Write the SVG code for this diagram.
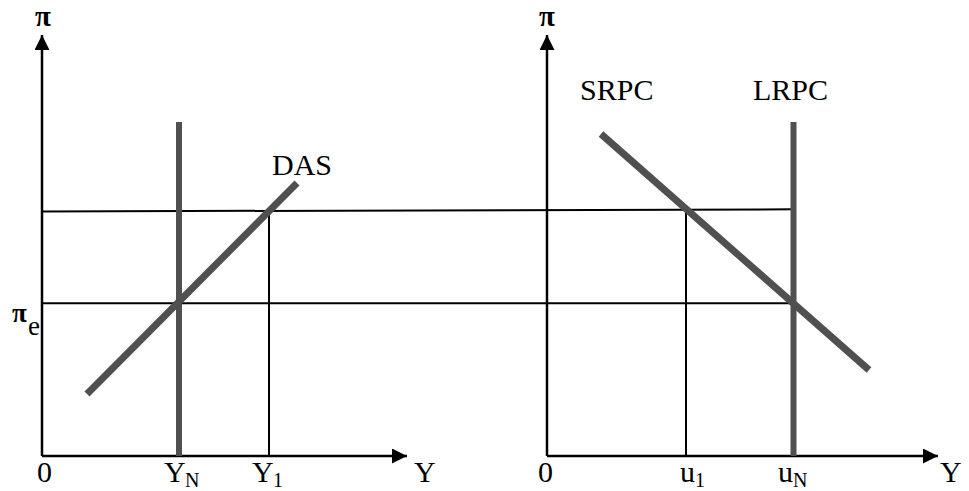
<svg xmlns="http://www.w3.org/2000/svg" width="969" height="491" viewBox="0 0 969 491">
<style>
.axis{stroke:#000;stroke-width:2.5;fill:none}
.thin{stroke:#000;stroke-width:2;fill:none}
.thick{stroke:#505050;stroke-width:6;fill:none}
.diag{stroke:#505050;stroke-width:7;fill:none}
text{font-family:"Liberation Serif","Times New Roman",serif;font-size:30px;fill:#000}
.sub{font-size:20px}
.pi{font-weight:bold;font-size:29px}
</style>
<defs>
<marker id="arr" viewBox="0 0 15 15" refX="15" refY="7.5" markerWidth="15" markerHeight="15" markerUnits="userSpaceOnUse" orient="auto">
<path d="M0,0 L15,7.5 L0,15 Z" fill="#000"/>
</marker>
</defs>
<g id="connectors">
<line class="axis" x1="42" y1="456" x2="42" y2="35" marker-end="url(#arr)"/>
<line class="axis" x1="42" y1="456" x2="407" y2="456" marker-end="url(#arr)"/>
<line class="axis" x1="547" y1="456" x2="547" y2="35" marker-end="url(#arr)"/>
<line class="axis" x1="547" y1="456" x2="938" y2="456" marker-end="url(#arr)"/>
<line class="thin" x1="42" y1="211.5" x2="793" y2="209.3"/>
<line class="thin" x1="42" y1="303.3" x2="793" y2="303.3"/>
<line class="thin" x1="269" y1="211" x2="269" y2="456"/>
<line class="thin" x1="686" y1="210" x2="686" y2="456"/>
</g>
<g id="YN-line"><line class="thick" x1="179" y1="122" x2="179" y2="456"/></g>
<g id="LRPC-line"><line class="thick" x1="793.5" y1="122" x2="793.5" y2="456"/></g>
<g id="DAS-line"><line class="diag" x1="87" y1="394" x2="297" y2="183"/></g>
<g id="SRPC-line"><line class="diag" x1="601" y1="134" x2="869" y2="370"/></g>
<g id="labels">
<text class="pi" x="35" y="26">π</text>
<text class="pi" x="539" y="26">π</text>
<text class="pi" x="12" y="322" style="font-size:27px">π</text><text x="28" y="335" style="font-size:27px">e</text>
<text x="272" y="175">DAS</text>
<text x="580" y="100">SRPC</text>
<text x="753" y="100">LRPC</text>
<text x="37" y="482">0</text>
<text x="164" y="482">Y</text><text class="sub" x="185" y="487">N</text>
<text x="252" y="482">Y</text><text class="sub" x="273" y="487">1</text>
<text x="414" y="482">Y</text>
<text x="538" y="482">0</text>
<text x="680" y="482">u</text><text class="sub" x="695" y="487">1</text>
<text x="778" y="482">u</text><text class="sub" x="793" y="487">N</text>
<text x="940" y="482">Y</text>
</g>
</svg>
